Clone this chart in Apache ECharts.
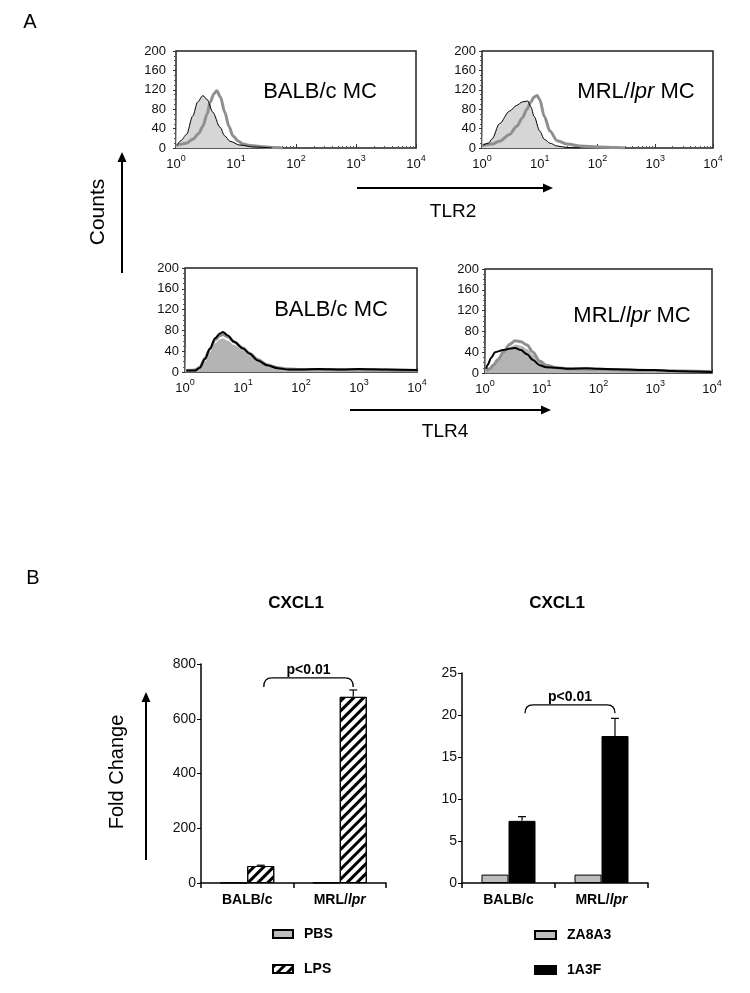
<!DOCTYPE html>
<html>

<head>
	<meta charset="utf-8">
</head>

<body style="margin: 0; background: #fff">
	<div id="container" style="width: 750px; height: 993px"></div>
	<script type="text/javascript" src="https://cdn.jsdelivr.net/npm/echarts@6/dist/echarts.min.js"></script>
	<script type="text/javascript">
		// ---- panel A : flow cytometry histograms, points are [fluorescence, counts]
		let histTicks = [0, 40, 80, 120, 160, 200];

		let tlr2BalbSpike = 125;
		let tlr2BalbCtrl = [[1.05, 6], [1.2, 15], [1.5, 28], [1.9, 66], [2.3, 95], [2.8, 108], [3.3, 100], [4.1, 74], [5.4, 43], [6.5, 25], [7.9, 14], [11.6, 6], [20, 2], [40, 0]];
		let tlr2BalbStain = [[1, 5], [1.5, 10], [1.9, 18], [2.4, 30], [2.8, 45], [3.3, 70], [3.7, 94], [4.3, 112], [4.8, 118], [5.5, 105], [6.5, 74], [7.6, 45], [8.9, 25], [11, 14], [13, 8], [18, 5], [25, 3], [40, 1], [60, 0]];

		let tlr2MrlSpike = 105;
		let tlr2MrlCtrl = [[1.05, 6], [1.3, 10], [1.5, 19], [2, 50], [3, 76], [4, 88], [5, 95], [6.2, 97], [7, 85], [8, 65], [10, 35], [12, 18], [15, 10], [20, 4], [30, 1], [50, 0]];
		let tlr2MrlStain = [[1, 5], [1.5, 8], [2, 14], [3, 28], [4, 45], [5, 62], [6, 80], [7, 95], [8, 105], [9, 108], [10, 100], [12, 65], [15, 35], [20, 15], [30, 8], [50, 4], [100, 2], [200, 1], [300, 0]];

		let tlr4BalbSpike = 62;
		let tlr4BalbFill = [[1.05, 2], [1.5, 3], [1.8, 6], [2.2, 20], [2.7, 38], [3.3, 55], [4, 63], [4.5, 65], [5.5, 60], [7, 52], [10, 42], [13, 32], [18, 20], [26, 12], [40, 6], [60, 4], [100, 4], [300, 4], [1000, 4], [3000, 3], [10000, 3]];
		let tlr4BalbCtrl = [[1.05, 3], [1.5, 3], [1.8, 8], [2.2, 25], [2.7, 45], [3.3, 65], [4, 74], [4.5, 77], [5.5, 70], [7, 58], [10, 45], [13, 35], [18, 22], [26, 13], [40, 7], [60, 5], [100, 5], [200, 6], [500, 5], [1000, 6], [3000, 5], [10000, 4]];
		let tlr4BalbStain = [[1.05, 3], [1.5, 4], [1.8, 9], [2.2, 26], [2.7, 44], [3.3, 62], [4, 70], [4.5, 72], [5.5, 68], [7, 58], [10, 46], [13, 36], [18, 24], [26, 14], [40, 8], [60, 6], [100, 5], [300, 5], [1000, 4], [3000, 4], [10000, 3]];

		let tlr4MrlSpike = 73;
		let tlr4MrlFill = [[1.05, 4], [1.2, 8], [1.5, 20], [2, 35], [2.5, 45], [3, 52], [3.5, 55], [4.5, 52], [5.5, 46], [7, 35], [9, 22], [12, 14], [18, 9], [30, 7], [100, 6], [300, 5], [1000, 4], [3000, 3], [10000, 2]];
		let tlr4MrlCtrl = [[1.05, 8], [1.1, 15], [1.3, 30], [1.5, 40], [2.1, 44], [2.8, 47], [3.4, 48], [4.3, 44], [5.5, 36], [7, 25], [9.2, 15], [12, 11], [18, 10], [30, 8], [60, 9], [100, 8], [200, 7], [500, 6], [1000, 6], [2000, 4], [5000, 3], [10000, 2]];
		let tlr4MrlStain = [[1.05, 4], [1.2, 8], [1.4, 15], [1.7, 26], [2.1, 40], [2.7, 55], [3.4, 62], [4.3, 60], [5.5, 54], [7, 40], [9.2, 23], [12, 15], [18, 10], [30, 8], [100, 7], [300, 6], [1000, 5], [3000, 4], [10000, 3]];

		// ---- panel B : qPCR fold change
		let groups = ['BALB/c', 'MRL/lpr'];
		let pbs = [1, 1];
		let lps = [62, 680];
		let lpsErr = [3, 25];
		let za8a3 = [1, 1];
		let a3f = [7.4, 17.5];
		let a3fErr = [0.5, 2.1];
		let leftTicks = [0, 200, 400, 600, 800];
		let rightTicks = [0, 5, 10, 15, 20, 25];
		let pLabel = 'p<0.01';
		// bracket: [from group, to group, top value, foot value]
		let leftBracket = [[0, 1, 749, 716]];
		let rightBracket = [[0, 1, 21.2, 20.2]];

		const FONT = '"Liberation Sans", Arial, sans-serif';
		const NARROW = '"Liberation Sans Narrow", "Liberation Sans", Arial, sans-serif';
		const BAR_W = 27;

		let dom = document.getElementById("container");
		let myChart = echarts.init(dom, null, { renderer: 'canvas' });

		let histGrids = [
			{ left: 176, top: 51, width: 240, height: 97 },
			{ left: 482, top: 51, width: 231, height: 97 },
			{ left: 185, top: 268, width: 232, height: 104 },
			{ left: 485, top: 269, width: 227, height: 104 }
		];
		let histLabelMargin = [10, 6, 6, 6];

		function histX(i) {
			return {
				type: 'log', logBase: 10, gridIndex: i, min: 1, max: 10000,
				axisLine: { show: false },
				axisTick: { show: true, inside: true, length: 4, lineStyle: { color: '#333' } },
				minorTick: { show: true, splitNumber: 9, length: 2, lineStyle: { color: '#555' } },
				splitLine: { show: false },
				axisLabel: {
					showMinLabel: true, showMaxLabel: true, margin: 6,
					fontFamily: FONT, fontSize: 13, color: '#111', lineHeight: 20,
					formatter: function (v) {
						return '10{s|' + Math.round(Math.log10(v)) + '}';
					},
					rich: { s: { fontFamily: FONT, fontSize: 9, lineHeight: 9, verticalAlign: 'top', color: '#111' } }
				}
			};
		}

		function histY(i) {
			return {
				type: 'value', gridIndex: i, min: histTicks[0], max: histTicks[histTicks.length - 1],
				interval: histTicks[1] - histTicks[0],
				axisLine: { show: false },
				axisTick: { show: true, length: 3, lineStyle: { color: '#333' } },
				minorTick: { show: true, splitNumber: 4, length: 2, lineStyle: { color: '#555' } },
				splitLine: { show: false },
				axisLabel: { margin: histLabelMargin[i], fontFamily: FONT, fontSize: 13, color: '#111' }
			};
		}

		function histSeries(i, spike, fill, ctrl, stain, fillColor, ctrlWidth) {
			let common = {
				type: 'line', xAxisIndex: i, yAxisIndex: i, smooth: 0.3, smoothMonotone: 'x',
				symbol: 'none', silent: true, animation: false
			};
			return [
				Object.assign({}, common, {
					data: [[1, spike]].concat(fill),
					lineStyle: { width: 0 },
					areaStyle: { color: fillColor, opacity: 1 },
					z: 1
				}),
				Object.assign({}, common, {
					data: stain,
					lineStyle: { color: '#8f8f8f', width: 3 },
					z: 2
				}),
				Object.assign({}, common, {
					data: ctrl,
					lineStyle: { color: '#000', width: ctrlWidth },
					z: 3
				})
			];
		}

		function barX(i) {
			return {
				type: 'category', gridIndex: i, data: groups,
				axisLine: { lineStyle: { color: '#000', width: 1.5 } },
				axisTick: { show: true, length: 5, lineStyle: { color: '#000', width: 1.5 } },
				axisLabel: {
					margin: 10, interval: 0, fontFamily: FONT, fontSize: 14, fontWeight: 'bold', color: '#000',
					formatter: function (v) {
						return v.replace('lpr', '{i|lpr}');
					},
					rich: { i: { fontFamily: FONT, fontSize: 14, fontWeight: 'bold', fontStyle: 'italic', color: '#000' } }
				}
			};
		}

		function barY(i, ticks) {
			return {
				type: 'value', gridIndex: i, min: ticks[0], max: ticks[ticks.length - 1],
				interval: ticks[1] - ticks[0],
				axisLine: { show: true, lineStyle: { color: '#000', width: 1.5 } },
				axisTick: { show: true, length: 4, lineStyle: { color: '#000' } },
				splitLine: { show: false },
				axisLabel: { margin: 5, fontFamily: NARROW, fontSize: 14, color: '#111' }
			};
		}

		function errorSeries(i, values, errs) {
			return {
				type: 'custom', xAxisIndex: i, yAxisIndex: i, silent: true, z: 5,
				data: values.map(function (v, k) { return [k, v, v + errs[k]]; }),
				renderItem: function (params, api) {
					let base = api.coord([api.value(0), api.value(1)]);
					let top = api.coord([api.value(0), api.value(2)]);
					let x = base[0] + BAR_W / 2;
					let st = { stroke: '#000', lineWidth: 1.2 };
					return {
						type: 'group', children: [
							{ type: 'line', shape: { x1: x, y1: base[1], x2: x, y2: top[1] }, style: st },
							{ type: 'line', shape: { x1: x - 4, y1: top[1], x2: x + 4, y2: top[1] }, style: st }
						]
					};
				}
			};
		}

		function bracketSeries(i, br) {
			return {
				type: 'custom', xAxisIndex: i, yAxisIndex: i, silent: true, z: 6,
				data: br,
				renderItem: function (params, api) {
					let a = api.coord([api.value(0), api.value(2)]);
					let b = api.coord([api.value(1), api.value(2)]);
					let foot = api.coord([api.value(0), api.value(3)])[1];
					let x0 = a[0] + BAR_W / 2 + 3, x1 = b[0] + BAR_W / 2, y = a[1];
					let r = 8;
					let st = { stroke: '#000', lineWidth: 1.3, fill: null };
					return {
						type: 'group', children: [
							{ type: 'bezierCurve', shape: { x1: x0, y1: foot, x2: x0 + r, y2: y, cpx1: x0, cpy1: y }, style: st },
							{ type: 'line', shape: { x1: x0 + r, y1: y, x2: x1 - r, y2: y }, style: st },
							{ type: 'bezierCurve', shape: { x1: x1 - r, y1: y, x2: x1, y2: foot, cpx1: x1, cpy1: y }, style: st },
							{
								type: 'text', style: {
									text: pLabel, x: (x0 + x1) / 2, y: y - 1, align: 'center', verticalAlign: 'bottom',
									font: 'bold 14px ' + FONT, fill: '#000'
								}
							}
						]
					};
				}
			};
		}

		function arrow(x1, y1, x2, y2) {
			let ang = Math.atan2(y2 - y1, x2 - x1);
			let len = 10, w = 4.5;
			let bx = x2 - len * Math.cos(ang), by = y2 - len * Math.sin(ang);
			return [
				{ type: 'line', silent: true, shape: { x1: x1, y1: y1, x2: bx, y2: by }, style: { stroke: '#000', lineWidth: 2 } },
				{
					type: 'polygon', silent: true,
					shape: { points: [[x2, y2], [bx - w * Math.sin(ang), by + w * Math.cos(ang)], [bx + w * Math.sin(ang), by - w * Math.cos(ang)]] },
					style: { fill: '#000' }
				}
			];
		}

		function label(text, x, y, size, opts) {
			opts = opts || {};
			return {
				type: 'text', silent: true, x: x, y: y, rotation: opts.rotation || 0,
				style: {
					text: text, x: 0, y: 0, align: 'center', verticalAlign: 'middle',
					font: (opts.bold ? 'bold ' : '') + size + 'px ' + FONT, fill: '#000',
					rich: { i: { fontFamily: FONT, fontSize: size, fontStyle: 'italic', fill: '#000' } }
				}
			};
		}

		let graphics = [
			label('A', 30, 22, 20),
			label('B', 33, 578, 20),
			label('BALB/c MC', 320, 92, 22),
			label('MRL/{i|lpr} MC', 636, 92, 22),
			label('BALB/c MC', 331, 310, 22),
			label('MRL/{i|lpr} MC', 632, 316, 22),
			label('TLR2', 453, 212, 19),
			label('TLR4', 445, 432, 19),
			label('Counts', 98, 212, 21, { rotation: Math.PI / 2 }),
			label('Fold Change', 117, 772, 20, { rotation: Math.PI / 2 }),
			label('CXCL1', 296, 603, 17, { bold: true }),
			label('CXCL1', 557, 603, 17, { bold: true })
		].concat(
			arrow(357, 188, 553, 188),
			arrow(350, 410, 551, 410),
			arrow(122, 273, 122, 152),
			arrow(146, 860, 146, 692)
		);

		let option = {
			backgroundColor: '#fff',
			animation: false,
			textStyle: { fontFamily: FONT },
			grid: histGrids.map(function (g) {
				return Object.assign({ show: true, borderColor: '#222', borderWidth: 1.5, backgroundColor: 'transparent' }, g);
			}).concat([
				{ left: 201, top: 664, width: 185, height: 219 },
				{ left: 462, top: 673, width: 186, height: 210 }
			]),
			xAxis: [histX(0), histX(1), histX(2), histX(3), barX(4), barX(5)],
			yAxis: [histY(0), histY(1), histY(2), histY(3), barY(4, leftTicks), barY(5, rightTicks)],
			legend: [
				{
					data: ['PBS', 'LPS'], orient: 'vertical', left: 267, top: 922, itemWidth: 20, itemHeight: 8, itemGap: 21,
					icon: 'rect', selectedMode: false,
					textStyle: { fontFamily: FONT, fontSize: 14, fontWeight: 'bold', color: '#000', padding: [0, 0, 0, 6] }
				},
				{
					data: ['ZA8A3', '1A3F'], orient: 'vertical', left: 529, top: 923, itemWidth: 21, itemHeight: 8, itemGap: 21,
					icon: 'rect', selectedMode: false,
					textStyle: { fontFamily: FONT, fontSize: 14, fontWeight: 'bold', color: '#000', padding: [0, 0, 0, 6] }
				}
			],
			graphic: graphics,
			series: [].concat(
				histSeries(0, tlr2BalbSpike, tlr2BalbCtrl, tlr2BalbCtrl, tlr2BalbStain, '#d6d6d6', 1),
				histSeries(1, tlr2MrlSpike, tlr2MrlCtrl, tlr2MrlCtrl, tlr2MrlStain, '#d6d6d6', 1),
				histSeries(2, tlr4BalbSpike, tlr4BalbFill, tlr4BalbCtrl, tlr4BalbStain, '#b4b4b4', 2),
				histSeries(3, tlr4MrlSpike, tlr4MrlFill, tlr4MrlCtrl, tlr4MrlStain, '#b4b4b4', 2),
				[
					{
						name: 'PBS', type: 'bar', xAxisIndex: 4, yAxisIndex: 4, data: pbs, barWidth: BAR_W, barGap: '0%',
						itemStyle: { color: '#bdbdbd', borderColor: '#000', borderWidth: 1 }
					},
					{
						name: 'LPS', type: 'bar', xAxisIndex: 4, yAxisIndex: 4, data: lps, barWidth: BAR_W, barGap: '0%',
						itemStyle: {
							color: '#fff', borderColor: '#000', borderWidth: 1,
							decal: { symbol: 'rect', symbolSize: 1, color: '#000', dashArrayX: [1, 0], dashArrayY: [3, 4], rotation: -Math.PI / 4 }
						}
					},
					errorSeries(4, lps, lpsErr),
					bracketSeries(4, leftBracket),
					{
						name: 'ZA8A3', type: 'bar', xAxisIndex: 5, yAxisIndex: 5, data: za8a3, barWidth: BAR_W, barGap: '0%',
						itemStyle: { color: '#bdbdbd', borderColor: '#000', borderWidth: 1 }
					},
					{
						name: '1A3F', type: 'bar', xAxisIndex: 5, yAxisIndex: 5, data: a3f, barWidth: BAR_W, barGap: '0%',
						itemStyle: { color: '#000', borderColor: '#000', borderWidth: 1 }
					},
					errorSeries(5, a3f, a3fErr),
					bracketSeries(5, rightBracket)
				]
			)
		};

		myChart.setOption(option);
	</script>
</body>
</html>
